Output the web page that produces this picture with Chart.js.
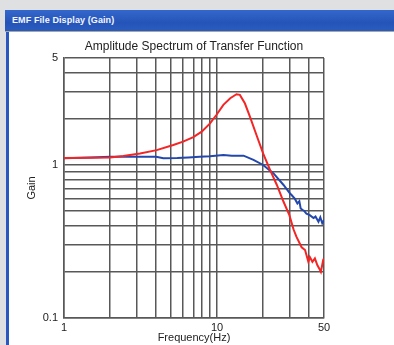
<!DOCTYPE html>
<html>
<head>
<meta charset="utf-8">
<script src="https://cdn.jsdelivr.net/npm/chart.js@4/dist/chart.umd.min.js"></script>
<style>
  html, body { margin: 0; padding: 0; width: 394px; height: 345px; overflow: hidden; background: #dfe0e2; }
  #win { position: absolute; left: 6px; top: 10px; width: 400px; height: 345px; background: #fff; border-left: 3px solid #2a58be; box-sizing: border-box; }
  #bar { position: absolute; left: 5px; top: 10px; width: 400px; height: 21px; background: linear-gradient(#3467cc, #2554b8 60%, #2a5cc0); border-bottom: 1px solid #a9a6a0; }
  #bar span { position: absolute; left: 7px; top: 5px; color: #f4f6ff; font: bold 9px "Liberation Sans", Arial, sans-serif; letter-spacing: 0.1px; }
  #c { position: absolute; left: 0; top: 0; }
</style>
</head>
<body>
<div id="win"></div>
<div id="bar"><span>EMF File Display (Gain)</span></div>
<canvas id="c" width="394" height="345"></canvas>
<script>
// gain curves (frequency in Hz, gain)
var redFreq = [1, 1.5, 2, 2.44, 3.14, 4.03, 5.18, 6.0, 7.0, 7.94, 9.0, 9.9, 11.0, 12.2, 13.4, 14.1, 15.2, 16.4, 18.1, 20.0, 22.2, 24.6, 27.2, 29.7, 31.6, 33.0, 35.7, 37.6, 39.5, 40.4, 42.0, 43.6, 45.2, 46.6, 47.7, 49.4, 50];
var redGain = [1.11, 1.115, 1.12, 1.145, 1.19, 1.25, 1.35, 1.42, 1.52, 1.65, 1.87, 2.12, 2.47, 2.73, 2.9, 2.87, 2.53, 2.07, 1.57, 1.19, 0.93, 0.74, 0.575, 0.47, 0.38, 0.34, 0.29, 0.278, 0.233, 0.25, 0.233, 0.245, 0.222, 0.21, 0.2, 0.24, 0.245];

var blueFreq = [1, 1.48, 2, 3, 4, 4.46, 5.5, 6.5, 7.7, 9.0, 11.0, 12.5, 14.9, 17.3, 20.0, 23.4, 27.2, 30.0, 30.7, 32.3, 33.5, 34.5, 35.2, 36.3, 37.2, 38.4, 40.4, 42.7, 44.0, 46.0, 47.3, 48.7, 50];
var blueGain = [1.105, 1.12, 1.13, 1.13, 1.13, 1.105, 1.11, 1.12, 1.13, 1.14, 1.16, 1.15, 1.15, 1.08, 1.0, 0.88, 0.74, 0.65, 0.636, 0.6, 0.56, 0.58, 0.52, 0.508, 0.5, 0.48, 0.47, 0.45, 0.46, 0.426, 0.455, 0.416, 0.437];

var xTicks = [1, 2, 3, 4, 5, 6, 7, 8, 9, 10, 20, 30, 40, 50];
var xLabels = [1, 10, 50];
var yTicks = [0.1, 0.2, 0.3, 0.4, 0.5, 0.6, 0.7, 0.8, 0.9, 1, 2, 3, 4, 5];
var yLabels = [0.1, 1, 5];

function pts(xs, ys) {
    return xs.map(function (x, i) { return { x: x, y: ys[i] }; });
}

Chart.defaults.font.family = "'Liberation Sans', Arial, sans-serif";
Chart.defaults.color = '#222';

var gridColor = '#585858';

var ctx = document.getElementById('c');

var myChart = new Chart(ctx, {
    type: 'line',
    data: {
        datasets: [{
            label: 'red',
            data: pts(redFreq, redGain),
            borderColor: '#f42525',
            borderWidth: 2,
            pointRadius: 0,
            tension: 0
        }, {
            label: 'blue',
            data: pts(blueFreq, blueGain),
            borderColor: '#2348ad',
            borderWidth: 2,
            pointRadius: 0,
            tension: 0
        }]
    },
    options: {
        responsive: false,
        animation: false,
        layout: { padding: { top: 39.6, right: 70, bottom: 0, left: 0 } },
        plugins: {
            legend: { display: false },
            tooltip: { enabled: false },
            title: {
                display: true,
                text: 'Amplitude Spectrum of Transfer Function',
                fullSize: false,
                font: { size: 12, weight: 'normal' },
                color: '#222',
                padding: { top: 0, bottom: 4 }
            }
        },
        scales: {
            x: {
                type: 'logarithmic',
                min: 1,
                max: 50,
                afterBuildTicks: function (scale) {
                    scale.ticks = xTicks.map(function (v) { return { value: v }; });
                },
                afterFit: function (scale) { scale.height = 27; },
                ticks: {
                    autoSkip: false,
                    maxRotation: 0,
                    padding: 3,
                    font: { size: 11 },
                    color: '#222',
                    callback: function (v) { return xLabels.indexOf(v) >= 0 ? String(v) : ''; }
                },
                grid: { color: gridColor, lineWidth: 1.5, drawTicks: false },
                border: { color: gridColor, width: 1.5 },
                title: {
                    display: true,
                    text: 'Frequency(Hz)',
                    font: { size: 11 },
                    color: '#222',
                    padding: { top: 0, bottom: 0 }
                }
            },
            y: {
                type: 'logarithmic',
                min: 0.1,
                max: 5,
                afterBuildTicks: function (scale) {
                    scale.ticks = yTicks.map(function (v) { return { value: v }; });
                },
                afterFit: function (scale) { scale.width = 64; },
                ticks: {
                    autoSkip: false,
                    padding: 6,
                    font: { size: 11 },
                    color: '#222',
                    callback: function (v) { return yLabels.indexOf(v) >= 0 ? String(v) : ''; }
                },
                grid: { color: gridColor, lineWidth: 1.5, drawTicks: false },
                border: { color: gridColor, width: 1.5 },
                title: {
                    display: true,
                    text: 'Gain',
                    font: { size: 11 },
                    color: '#222',
                    padding: { top: 25, bottom: 0 }
                }
            }
        }
    }
});
</script>
</body>
</html>
